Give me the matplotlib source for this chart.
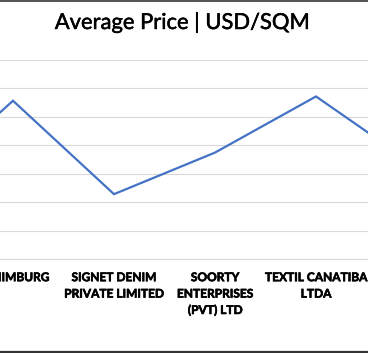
import matplotlib.pyplot as plt
import matplotlib.patheffects as pe
from matplotlib.lines import Line2D

# Données (les catégories aux bords sont coupées par le cadrage)
entreprises = ["", "DENIMBURG", "SIGNET DENIM\nPRIVATE LIMITED", "SOORTY\nENTERPRISES\n(PVT) LTD",
               "TEXTIL CANATIBA\nLTDA", "ISKO\nTEKSTIL SANAYI"]
prix_moyen = [2.37, 5.57, 2.29, 3.75, 5.72, 3.26]
graduations_y = [0, 1, 2, 3, 4, 5, 6, 7]

W, H = 368, 353
fig = plt.figure(figsize=(W / 100, H / 100), dpi=100)

# Axes plus larges que l'image : on ne voit qu'une partie du graphique
pas = 101  # écart entre catégories en pixels
gauche = 13 - pas * 1.5
ax = fig.add_axes([gauche / W, (H - 259.4) / H, pas * len(entreprises) / W, (259.4 - 60) / H])

x = list(range(len(entreprises)))
ax.plot(x, prix_moyen, color='#4472C4', linewidth=1.6, solid_joinstyle='miter', clip_on=False)

ax.set_xlim(-0.5, len(entreprises) - 0.5)
ax.set_ylim(graduations_y[0], graduations_y[-1])
ax.set_yticks(graduations_y)
ax.yaxis.grid(True, color='#D9D9D9', linewidth=0.8)
ax.set_axisbelow(True)

ax.set_xticks(x)
etiquettes = ax.set_xticklabels(entreprises, fontfamily='Lato', fontweight='bold', fontsize=8.6,
                                linespacing=1.6, color='black')
# un léger contour pour épaissir le gras
for t in etiquettes:
    t.set_path_effects([pe.withStroke(linewidth=0.45, foreground='black')])
ax.tick_params(axis='x', length=0, pad=9.2)
ax.tick_params(axis='y', left=False, labelleft=False)

for cote in ['top', 'left', 'right']:
    ax.spines[cote].set_visible(False)
ax.spines['bottom'].set_color('#D9D9D9')
ax.spines['bottom'].set_linewidth(0.8)

titre = fig.text(182.5 / W, 1 - 29 / H, "Average Price | USD/SQM", ha='center', va='baseline',
                 fontfamily='Lato', fontsize=15.8, color='black')
titre.set_path_effects([pe.withStroke(linewidth=0.35, foreground='black')])

# Bordures sombres en haut et en bas
fig.add_artist(Line2D([0, 1], [1 - 0.6 / H, 1 - 0.6 / H], color='#333333', linewidth=1.2))
fig.add_artist(Line2D([0, 1], [1.2 / H, 1.2 / H], color='#333333', linewidth=1.6))

plt.savefig("out.png", dpi=100)
